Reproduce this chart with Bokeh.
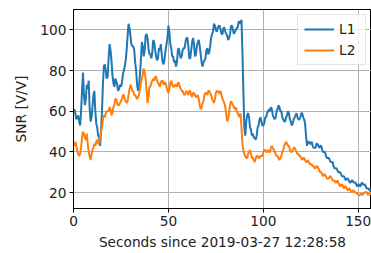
from bokeh.plotting import figure
from bokeh.models import Range1d, FixedTicker, Legend, LegendItem
from bokeh.embed import file_html
from bokeh.resources import INLINE

# SNR samples: values at whole seconds and at the half seconds between them
l1_whole = [60, 59, 57, 55, 60, 79, 63, 73, 75, 55,
            62, 70, 54, 48, 43, 60, 82, 80, 77, 93,
            85, 74, 76, 73, 71, 72, 78, 82, 90, 103,
            97, 92, 90, 80, 70, 78, 94, 87, 97, 96,
            88, 86, 95, 90, 85, 91, 93, 84, 86, 93,
            102, 93, 87, 84, 82, 90, 88, 87, 91, 94,
            96, 86, 90, 96, 87, 92, 95, 88, 82, 85,
            90, 88, 92, 98, 103, 100, 101, 102, 98, 101,
            99, 97, 96, 102, 100, 99, 101, 104, 103, 89,
            52, 55, 59, 52, 48, 47, 46, 52, 56, 55,
            53, 57, 59, 61, 62, 58, 56, 60, 63, 60,
            57, 55, 57, 60, 56, 53, 56, 58, 57, 56,
            59, 57, 54, 43, 45, 44, 43, 42, 44, 43,
            43, 41, 40, 38, 37, 36, 35, 33, 32, 31,
            30, 29, 28, 27, 27, 26, 25, 26, 25, 24,
            24, 23, 25, 24, 23, 22, 21, 22]
l1_half = [61, 56, 58, 53, 70, 68, 66, 71, 62, 57,
           68, 60, 52, 47, 50, 73, 83, 76, 86, 90,
           78, 72, 75, 70, 73, 74, 80, 85, 97, 101,
           93, 92, 84, 73, 72, 85, 92, 90, 98, 91,
           88, 89, 94, 87, 86, 90, 88, 83, 90, 96,
           99, 91, 87, 85, 84, 91, 86, 90, 91, 96,
           92, 86, 94, 93, 88, 94, 92, 84, 84, 86,
           91, 89, 96, 99, 102, 99, 102, 100, 98, 101,
           98, 95, 98, 102, 98, 100, 101, 104, 105, 70,
           48, 58, 57, 51, 49, 47, 48, 53, 57, 53,
           54, 57, 60, 60, 61, 57, 57, 61, 62, 60,
           56, 55, 58, 59, 55, 54, 57, 59, 56, 57,
           59, 56, 48, 45, 44, 45, 42, 42, 44, 42,
           43, 40, 40, 37, 37, 35, 35, 32, 32, 30,
           30, 28, 28, 26, 27, 25, 26, 25, 25, 23,
           24, 24, 24, 24, 22, 22, 21]

l2_whole = [44, 45, 40, 38, 42, 50, 47, 49, 40, 36,
            41, 44, 45, 44, 47, 52, 58, 59, 60, 62,
            58, 62, 66, 64, 63, 65, 68, 66, 64, 68,
            73, 70, 68, 67, 67, 71, 76, 81, 76, 64,
            72, 74, 76, 77, 75, 73, 74, 75, 74, 72,
            69, 74, 73, 72, 73, 74, 72, 70, 68.5, 69,
            69, 70, 68, 69, 68, 67, 66, 61, 64, 68,
            69, 70, 69, 66, 64, 69, 70, 69, 68, 65,
            62, 55, 60, 65, 63, 61, 60, 58, 59, 44,
            39, 37, 39, 41, 37, 36, 37, 38, 37, 38,
            40, 41, 40, 40, 42, 42, 40, 38, 37, 37,
            40, 43, 45, 43, 41, 40, 42, 41, 39, 38,
            37, 37, 36, 35, 35, 34, 33, 32, 33, 32,
            30, 29, 29, 28, 27, 28, 27, 26, 25, 26,
            24, 24, 23, 23, 22, 22, 21, 21, 20.5, 20,
            19, 19, 19, 20, 20.5, 19, 20, 19]
l2_half = [43, 43, 39, 39, 47, 49, 46, 44, 38, 39,
           42, 43, 46, 44, 50, 56, 57, 60, 60, 61,
           59, 63, 66, 63, 64, 66, 68, 65, 65, 71,
           72, 70, 68, 66, 68, 74, 78, 79, 70, 67,
           72, 75, 75, 77, 74, 72, 75, 73, 74, 70,
           71, 75, 72, 73, 72, 74, 71, 70, 68, 70,
           68, 70, 67, 69, 67, 68, 63, 62, 65, 69,
           68, 70, 68, 65, 66, 70, 69, 70, 66, 64,
           58, 56, 63, 64, 62, 62, 59, 57, 52, 41,
           38, 37, 40, 39, 37, 35, 38, 37, 38, 38,
           41, 40, 41, 40, 43, 41, 39, 38, 36, 38,
           41, 44, 44, 43, 40, 41, 42, 40, 39, 38,
           36, 37, 35, 36, 34, 34, 33, 32, 33, 31,
           30, 28, 29, 27, 27, 28, 26, 26, 25, 25,
           23, 24, 22, 23, 21, 22, 20, 21, 20, 19.5,
           18.5, 19.5, 19, 20, 20, 19, 19.5]

x_ticks = [0, 50, 100, 150]
y_ticks = [20, 40, 60, 80, 100]


def merge(whole, half):
    ts, vs = [], []
    for i, v in enumerate(whole):
        ts.append(i)
        vs.append(v)
        if i < len(half):
            ts.append(i + 0.5)
            vs.append(half[i])
    return ts, vs


t1, v1 = merge(l1_whole, l1_half)
t2, v2 = merge(l2_whole, l2_half)

FONT = "DejaVu Sans"
FS = "13.7px"

p = figure(width=371, height=252, output_backend="svg", toolbar_location=None,
           x_range=Range1d(0, 157), y_range=Range1d(12.2, 110),
           min_border_left=73, min_border_right=0, min_border_top=9,
           min_border_bottom=44)

r1 = p.line(t1, v1, line_color="#1f77b4", line_width=2)
r2 = p.line(t2, v2, line_color="#ff7f0e", line_width=2)

p.xaxis.ticker = FixedTicker(ticks=x_ticks)
p.yaxis.ticker = FixedTicker(ticks=y_ticks)
for ax in (p.xaxis[0], p.yaxis[0]):
    ax.major_label_text_font = FONT
    ax.major_label_text_font_size = FS
    ax.major_label_text_color = "#222222"
    ax.axis_label_text_font = FONT
    ax.axis_label_text_font_size = FS
    ax.axis_label_text_font_style = "normal"
    ax.axis_label_text_color = "#222222"
    ax.major_tick_in = 0
    ax.major_tick_out = 4
    ax.major_label_standoff = 3
    ax.minor_tick_line_color = None
    ax.axis_line_color = "black"
    ax.major_tick_line_color = "black"

p.xaxis.axis_label = "Seconds since 2019-03-27 12:28:58"
p.yaxis.axis_label = "SNR [V/V]"
p.xaxis.axis_label_standoff = 5
p.yaxis.axis_label_standoff = 8

p.xgrid.grid_line_color = "#b0b0b0"
p.ygrid.grid_line_color = "#b0b0b0"
p.xgrid.grid_line_width = 1
p.ygrid.grid_line_width = 1

p.outline_line_color = "black"
p.outline_line_width = 1

legend = Legend(items=[LegendItem(label="L1", renderers=[r1]),
                       LegendItem(label="L2", renderers=[r2])],
                location="top_right")
legend.label_text_font = FONT
legend.label_text_font_size = FS
legend.label_text_color = "#222222"
legend.glyph_width = 30
legend.glyph_height = 16
legend.label_height = 16
legend.spacing = 5
legend.padding = 6
legend.margin = 5
legend.border_line_color = "#cccccc"
legend.background_fill_alpha = 0.8
p.add_layout(legend)

open("out.html", "w").write(file_html(p, INLINE))
